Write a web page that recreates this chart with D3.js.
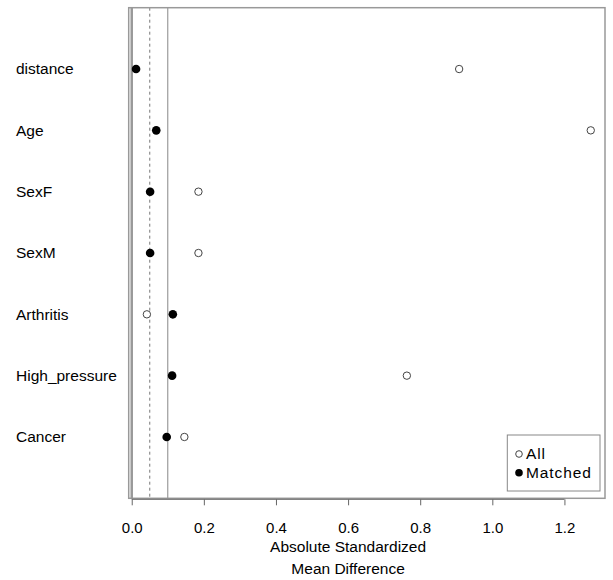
<!DOCTYPE html>
<html>
<head>
<meta charset="utf-8">
<script src="https://cdn.jsdelivr.net/npm/d3@7"></script>
<style>
  body { margin: 0; background: #fff; }
  text { font-family: "Liberation Sans", Arial, sans-serif; fill: #000; }
</style>
</head>
<body>
<script>
"use strict";

// covariates, top to bottom
var covariates = ["distance", "Age", "SexF", "SexM", "Arthritis", "High_pressure", "Cancer"];
var allValues = [0.908, 1.273, 0.185, 0.185, 0.042, 0.763, 0.146];
var matchedValues = [0.012, 0.068, 0.051, 0.051, 0.114, 0.112, 0.097];
var xTicks = [0, 0.2, 0.4, 0.6, 0.8, 1.0, 1.2];
var refLines = [0.05, 0.1];

var width = 613, height = 580;
var box = { left: 128.7, top: 7.7, right: 605, bottom: 498.3 };
var fontSize = "15.5px";

var svg = d3.select("body").append("svg")
  .attr("width", width)
  .attr("height", height);

var x = d3.scaleLinear()
  .domain([-0.0084, 1.3125])
  .range([box.left, box.right]);

var y = d3.scaleLinear()
  .domain([0, covariates.length + 1])
  .range([box.top, box.bottom]);

// zero line (thick grey)
svg.append("line")
  .attr("x1", x(0)).attr("x2", x(0))
  .attr("y1", box.top).attr("y2", box.bottom)
  .attr("stroke", "#999").attr("stroke-width", 2.5);

// dotted 0.05 and solid 0.1 reference lines
svg.append("line")
  .attr("x1", x(refLines[0])).attr("x2", x(refLines[0]))
  .attr("y1", box.top).attr("y2", box.bottom)
  .attr("stroke", "#777").attr("stroke-width", 1)
  .attr("stroke-dasharray", "3,3");
svg.append("line")
  .attr("x1", x(refLines[1])).attr("x2", x(refLines[1]))
  .attr("y1", box.top).attr("y2", box.bottom)
  .attr("stroke", "#888").attr("stroke-width", 1);

// plot frame
svg.append("rect")
  .attr("x", box.left).attr("y", box.top)
  .attr("width", box.right - box.left)
  .attr("height", box.bottom - box.top)
  .attr("fill", "none")
  .attr("stroke", "#999").attr("stroke-width", 1.5);

// x axis
var xAxis = d3.axisBottom(x)
  .tickValues(xTicks)
  .tickFormat(d3.format(".1f"))
  .tickSize(6)
  .tickSizeOuter(0);

var gx = svg.append("g")
  .attr("transform", "translate(0," + (box.bottom + 1) + ")")
  .call(xAxis);
gx.select(".domain")
  .attr("d", "M" + x(0) + ",0H" + x(1.2))
  .attr("stroke", "#666");
gx.selectAll(".tick line").attr("stroke", "#666");
gx.selectAll(".tick text")
  .attr("y", 23)
  .style("font-size", "15px")
  .style("font-family", "Liberation Sans, Arial, sans-serif")
  .attr("fill", "#000");

// axis title
svg.append("text")
  .attr("x", x(0.6)).attr("y", 552)
  .attr("text-anchor", "middle")
  .style("font-size", fontSize)
  .text("Absolute Standardized");
svg.append("text")
  .attr("x", x(0.6)).attr("y", 573.5)
  .attr("text-anchor", "middle")
  .style("font-size", fontSize)
  .text("Mean Difference");

// covariate labels
svg.selectAll(".ylab")
  .data(covariates)
  .enter().append("text")
  .attr("class", "ylab")
  .attr("x", 16)
  .attr("y", function(d, i) { return y(i + 1); })
  .attr("dy", "0.35em")
  .style("font-size", fontSize)
  .text(function(d) { return d; });

// All (open circles)
svg.selectAll(".all")
  .data(allValues)
  .enter().append("circle")
  .attr("class", "all")
  .attr("cx", function(d) { return x(d); })
  .attr("cy", function(d, i) { return y(i + 1); })
  .attr("r", 3.7)
  .attr("fill", "#fff")
  .attr("stroke", "#444")
  .attr("stroke-width", 1);

// Matched (filled circles)
svg.selectAll(".matched")
  .data(matchedValues)
  .enter().append("circle")
  .attr("class", "matched")
  .attr("cx", function(d) { return x(d); })
  .attr("cy", function(d, i) { return y(i + 1); })
  .attr("r", 4.3)
  .attr("fill", "#000");

// legend
var legend = svg.append("g");
legend.append("rect")
  .attr("x", 507.3).attr("y", 435)
  .attr("width", 92.7).attr("height", 56)
  .attr("fill", "#fff")
  .attr("stroke", "#888").attr("stroke-width", 1);
legend.append("circle")
  .attr("cx", 519).attr("cy", 454).attr("r", 3.3)
  .attr("fill", "#fff").attr("stroke", "#444");
legend.append("circle")
  .attr("cx", 519).attr("cy", 472.7).attr("r", 3.8)
  .attr("fill", "#000");
legend.append("text")
  .attr("x", 526).attr("y", 454).attr("dy", "0.35em")
  .style("font-size", fontSize).style("letter-spacing", "0.9px").text("All");
legend.append("text")
  .attr("x", 526).attr("y", 472.7).attr("dy", "0.35em")
  .style("font-size", fontSize).style("letter-spacing", "0.9px").text("Matched");
</script>
</body>
</html>
